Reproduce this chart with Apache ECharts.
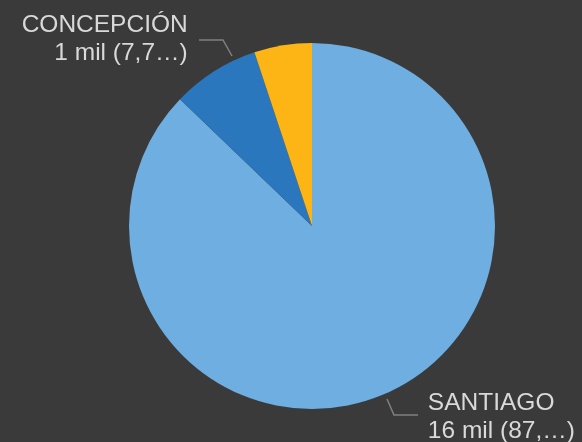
<!DOCTYPE html>
<html>
<head>
<meta charset="utf-8">
<script src="https://cdn.jsdelivr.net/npm/echarts@6/dist/echarts.min.js"></script>
<style>
html,body{margin:0;padding:0;background:#3a3a3a;}
#c{width:582px;height:442px;}
</style>
</head>
<body>
<div id="c"></div>
<script>
var categories = ['SANTIAGO', 'CONCEPCIÓN', 'VALPARAÍSO'];
var values = [16000, 1420, 935];
var colors = ['#6FAEE0', '#2B77BD', '#FDB515'];
var showLabel = [true, true, false];

var chart = echarts.init(document.getElementById('c'));
chart.setOption({
  backgroundColor: '#3a3a3a',
  animation: false,
  series: [{
    type: 'pie',
    center: [312, 226],
    radius: 183,
    startAngle: 90,
    clockwise: true,
    avoidLabelOverlap: false,
    itemStyle: { borderWidth: 0 },
    label: {
      show: true,
      position: 'outside',
      color: '#d9d9d9',
      fontFamily: 'Liberation Sans, Arial, sans-serif',
      fontSize: 24.5,
      lineHeight: 28,
      formatter: function (p) {
        var mil = Math.round(p.value / 1000);
        var pct = p.percent.toFixed(2).replace('.', ',');
        return p.name + '\n' + mil + ' mil (' + pct.slice(0, 3) + '…)';
      }
    },
    labelLine: {
      show: true,
      length: 18,
      length2: 24,
      lineStyle: { color: '#808080', width: 1.5 }
    },
    labelLayout: function (p) {
      if (p.dataIndex === 1) {
        return {
          dx: 12, dy: -17,
          labelLinePoints: [[232, 56], [223, 40], [199, 40]]
        };
      }
      if (p.dataIndex === 0) {
        return {
          dx: 8, dy: 6,
          labelLinePoints: [[387, 399], [394, 415], [418, 415]]
        };
      }
      return {};
    },
    data: categories.map(function (n, i) {
      return {
        name: n,
        value: values[i],
        itemStyle: { color: colors[i] },
        label: { show: showLabel[i] },
        labelLine: { show: showLabel[i] }
      };
    })
  }]
});
</script>
</body>
</html>
